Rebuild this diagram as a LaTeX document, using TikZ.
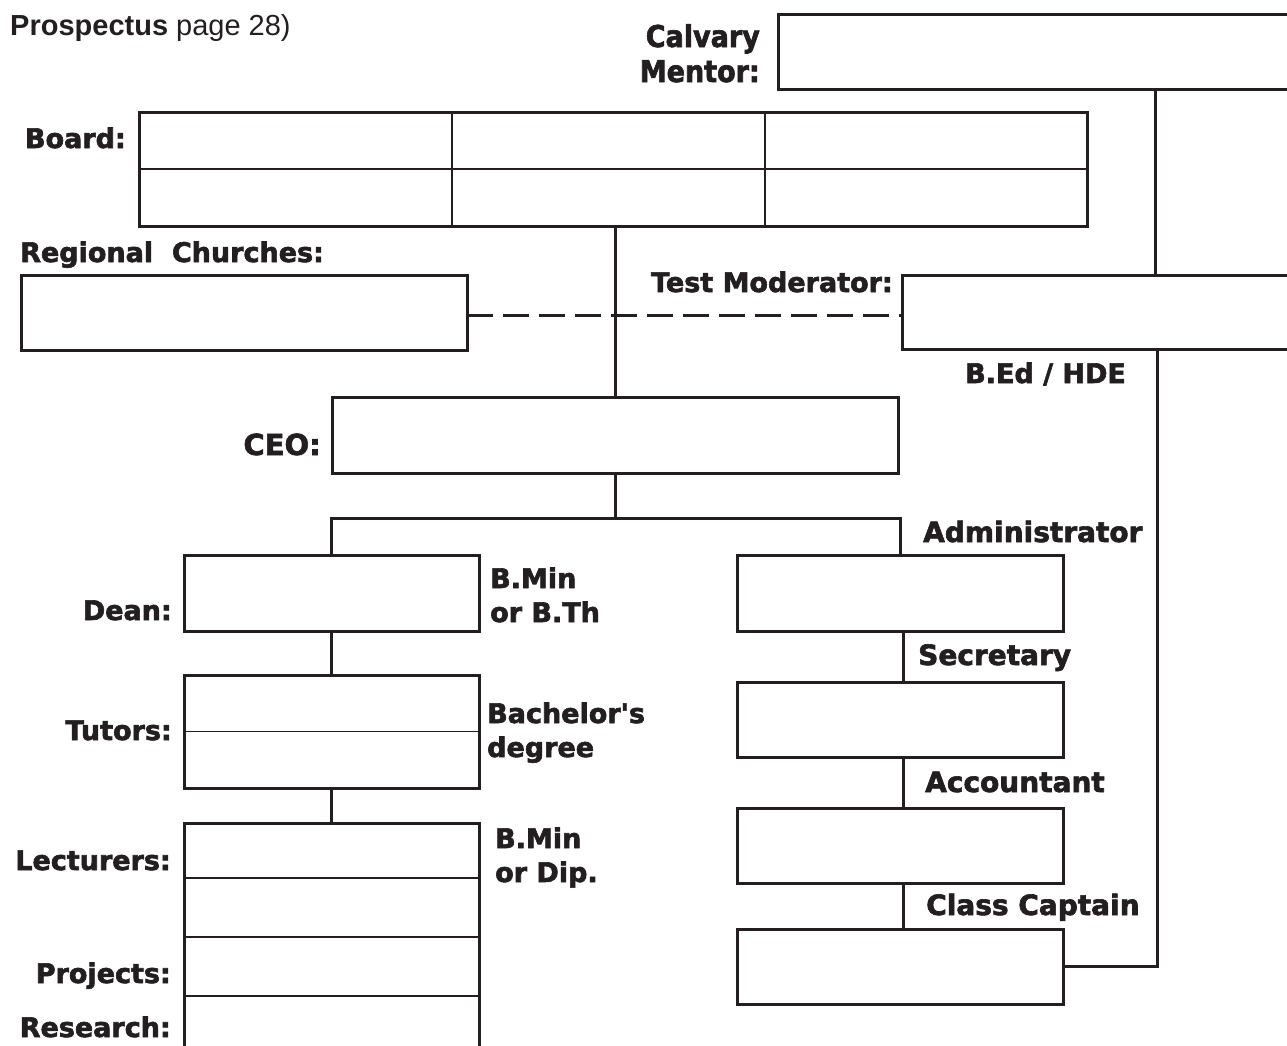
\documentclass[tikz,border=0pt]{standalone}
\usepackage{fontspec}
\setmainfont{Liberation Sans}
\newfontfamily\labf{DejaVu Sans}[UprightFont={* Bold}, BoldFont={* Bold}, FakeBold=2.2]
\newfontfamily\labfc{DejaVu Sans}[UprightFont={* Bold}, BoldFont={* Bold}, FakeBold=2.2, FakeStretch=0.9]
\definecolor{ink}{RGB}{35,31,32}
\begin{document}
\begin{tikzpicture}[x=1pt,y=-1pt,
  box/.style={draw=ink, line width=3pt, inner sep=0pt, outer sep=0pt, rectangle},
  conn/.style={draw=ink, line width=3pt},
  thinline/.style={draw=ink, line width=1.3pt},
  lab/.style={text=ink, inner sep=0pt, font=\labf\fontsize{27}{32}\selectfont},
  labr/.style={text=ink, inner sep=0pt, font=\labf\fontsize{28}{33}\selectfont},
  labc/.style={text=ink, inner sep=0pt, font=\labfc\fontsize{30}{35}\selectfont}
]
\fill[white] (0,0) rectangle (1287,1045);
\clip (0,0) rectangle (1287,1045);

% header
\node[anchor=base west, inner sep=0pt, text=ink, font=\fontsize{29}{34}\selectfont] (hdr) at (10,35) {\textbf{Prospectus} page 28)};

% boxes
\node[box, minimum width=532pt, minimum height=75pt] (calv) at (1044,51.5) {};
\node[box, minimum width=948pt, minimum height=114pt] (board) at (613,169) {};
\node[box, minimum width=446pt, minimum height=75pt] (regional) at (244,312.5) {};
\node[box, minimum width=408pt, minimum height=74pt] (testmod) at (1106,312) {};
\node[box, minimum width=566pt, minimum height=76pt] (ceo) at (615,435) {};
\node[box, minimum width=295pt, minimum height=76pt] (dean) at (331.5,593) {};
\node[box, minimum width=295pt, minimum height=113pt] (tutors) at (331.5,731.5) {};
\node[box, minimum width=295pt, minimum height=237pt] (lect) at (331.5,941.5) {};
\node[box, minimum width=326pt, minimum height=76pt] (admin) at (900,593) {};
\node[box, minimum width=326pt, minimum height=75pt] (sec) at (900,719.5) {};
\node[box, minimum width=326pt, minimum height=75pt] (acc) at (900,845.5) {};
\node[box, minimum width=326pt, minimum height=75pt] (cap) at (900,966.5) {};

% inner thin lines
\draw[thinline] (board.west) -- (board.east);
\draw[thinline] ([xshift=313pt]board.north west) -- ([xshift=313pt]board.south west);
\draw[thinline] ([xshift=626pt]board.north west) -- ([xshift=626pt]board.south west);
\draw[thinline] (tutors.west) -- (tutors.east);
\draw[thinline] ([yshift=-55pt]lect.north west) -- ([yshift=-55pt]lect.north east);
\draw[thinline] ([yshift=-114pt]lect.north west) -- ([yshift=-114pt]lect.north east);
\draw[thinline] ([yshift=-173pt]lect.north west) -- ([yshift=-173pt]lect.north east);

% connectors
\coordinate (tmx) at (1155,0);
\coordinate (rx) at (1157,0);
\coordinate (br) at (615,518);
\coordinate (dy) at (0,315);
\coordinate (chx) at (903,0);
\draw[conn] (calv.south -| tmx) -- (testmod.north -| tmx);
\draw[conn] (testmod.south -| rx) |- (cap.east);
\draw[conn] (ceo.north |- board.south) -- (ceo.north);
\draw[conn, dash pattern=on 26pt off 10pt] (regional.east |- dy) -- (testmod.west |- dy);
\draw[conn] (ceo.south) -- (br);
\draw[conn] (dean.north) |- (br) -| (admin.north);
\draw[conn] (dean.south) -- (tutors.north);
\draw[conn] (tutors.south) -- (lect.north);
\draw[conn] (admin.south -| chx) -- (sec.north -| chx);
\draw[conn] (sec.south -| chx) -- (acc.north -| chx);
\draw[conn] (acc.south -| chx) -- (cap.north -| chx);

% labels
\node[labc, anchor=base east] (lcalv1) at (760,47) {Calvary};
\node[labc, anchor=base east] (lcalv2) at (760,82) {Mentor:};
\node[lab, anchor=base east] (lboard) at (126,148) {Board:};
\node[lab, anchor=base west] (lreg) at (20,262) {Regional\ \ Churches:};
\node[lab, anchor=base east] (ltest) at (893,292) {Test Moderator:};
\node[lab, anchor=base west] (lbed) at (965,383) {B.Ed / HDE};
\node[lab, font=\labf\fontsize{29}{34}\selectfont, anchor=base east] (lceo) at (321,455) {CEO:};
\node[labr, anchor=base west] (ladm) at (923,542) {Administrator};
\node[labr, anchor=base west] (lsec) at (918,665) {Secretary};
\node[labr, anchor=base west] (lacc) at (925,792) {Accountant};
\node[labr, anchor=base west] (lcap) at (926,915) {Class Captain};
\node[lab, anchor=base east] (ldean) at (172,620) {Dean:};
\node[lab, anchor=base west] (lq1a) at (490,588) {B.Min};
\node[lab, anchor=base west] (lq1b) at (490,622) {or B.Th};
\node[lab, anchor=base east] (ltut) at (172,740) {Tutors:};
\node[lab, anchor=base west] (lq2a) at (487,723) {Bachelor\textquotesingle s};
\node[lab, anchor=base west] (lq2b) at (487,757) {degree};
\node[lab, anchor=base east] (llec) at (171,870) {Lecturers:};
\node[lab, anchor=base west] (lq3a) at (495,848) {B.Min};
\node[lab, anchor=base west] (lq3b) at (495,882) {or Dip.};
\node[lab, anchor=base east] (lproj) at (171,983) {Projects:};
\node[lab, anchor=base east] (lres) at (171,1037) {Research:};
\end{tikzpicture}
\end{document}
